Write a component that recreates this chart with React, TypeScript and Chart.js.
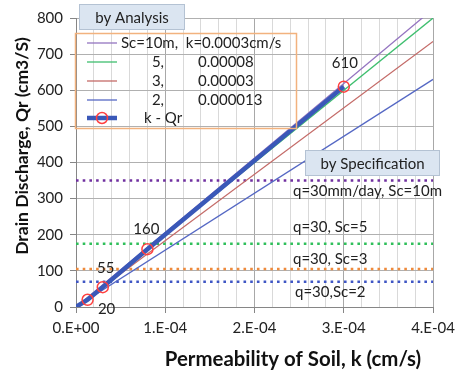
import React, { useEffect, useRef } from 'react';
import { Chart, registerables } from 'chart.js';
Chart.register(...registerables);

// ---- data ----
const lineK = [0, 0.0004];
const qSc10 = [0, 825];
const qSc5 = [0, 800];
const qSc3 = [0, 735];
const qSc2 = [0, 630];
const kPoints = [0, 0.000013, 0.00003, 0.00008, 0.0003];
const qPoints = [0, 20, 55, 160, 610];
const pointLabels = ['', '20', '55', '160', '610'];
const specK = [0, 0.0004];
const specQ = [350, 175, 105, 70];
const specLabels = ['q=30mm/day, Sc=10m', 'q=30, Sc=5', 'q=30, Sc=3', 'q=30,Sc=2'];
const specColors = ['#7030a0', '#2fbf5a', '#ee8a3c', '#3f56c4'];
const legendLeft = ['Sc=10m,  k=0.0003cm/s', '5,', '3,', '2,', 'k - Qr'];
const legendRight = ['', '0.00008', '0.00003', '0.000013', ''];
const lineColors = ['#9474c0', '#3fbf6f', '#c46b68', '#5568c4'];
const xTitle = 'Permeability of Soil, k (cm/s)';
const yTitle = 'Drain Discharge, Qr (cm3/S)';

const isMajor = (v: number) => Math.abs(v / 1e-4 - Math.round(v / 1e-4)) < 1e-6;
const fmtX = (v: number) => {
  const n = Math.round(v / 1e-4);
  return n === 0 ? '0.E+00' : `${n}.E-04`;
};

const pts = (xs: number[], ys: number[]) => xs.map((x, i) => ({ x, y: ys[i] }));

const fitFont = (ctx: CanvasRenderingContext2D, text: string, target: number) => {
  ctx.font = 'bold 20px Lato';
  const w = ctx.measureText(text).width;
  const size = Math.max(10, Math.min(24, (20 * target) / w));
  ctx.font = `bold ${size.toFixed(1)}px Lato`;
};

const overlay = {
  id: 'overlay',
  afterDraw(chart: any) {
    const ctx = chart.ctx as CanvasRenderingContext2D;
    const xs = chart.scales.x;
    const ys = chart.scales.y;
    ctx.save();
    // data labels
    ctx.fillStyle = '#222';
    ctx.font = '15px Lato';
    ctx.textAlign = 'center';
    ctx.textBaseline = 'middle';
    const offs = [[0, 0], [19, 9], [3, -19], [-1, -20], [1, -23]];
    kPoints.forEach((k, i) => {
      if (!pointLabels[i]) return;
      const px = xs.getPixelForValue(k);
      const py = ys.getPixelForValue(qPoints[i]);
      ctx.fillText(pointLabels[i], px + offs[i][0], py + offs[i][1]);
    });
    // spec labels
    ctx.textAlign = 'left';
    const specDy = [11, -17, -10, 10];
    const specDx = [0, 0, 0, 2];
    specQ.forEach((q, i) => {
      const py = ys.getPixelForValue(q);
      ctx.fillText(specLabels[i], 293 + specDx[i], py + specDy[i]);
    });
    // boxes
    const box = (x: number, y: number, w: number, h: number, t: string) => {
      ctx.fillStyle = '#dbe5f1';
      ctx.fillRect(x, y, w, h);
      ctx.strokeStyle = '#b4c2d3';
      ctx.lineWidth = 1;
      ctx.strokeRect(x + 0.5, y + 0.5, w - 1, h - 1);
      ctx.fillStyle = '#222';
      ctx.textAlign = 'center';
      ctx.font = '15px Lato';
      ctx.fillText(t, x + w / 2, y + h / 2 + 1);
    };
    box(79, 4, 106, 26, 'by Analysis');
    box(305, 150, 135, 26, 'by Specification');
    // legend
    ctx.strokeStyle = '#f2b27e';
    ctx.lineWidth = 1.5;
    ctx.strokeRect(75.5, 33.5, 221, 95);
    const rowY = [43, 62, 81, 100, 118];
    ctx.font = '15px Lato';
    rowY.forEach((y, i) => {
      ctx.beginPath();
      if (i < 4) {
        ctx.strokeStyle = lineColors[i];
        ctx.lineWidth = 1.3;
      } else {
        ctx.strokeStyle = '#3a58b8';
        ctx.lineWidth = 4.5;
      }
      ctx.moveTo(87, y);
      ctx.lineTo(117, y);
      ctx.stroke();
      if (i === 4) {
        ctx.beginPath();
        ctx.strokeStyle = '#ff4040';
        ctx.lineWidth = 1.5;
        ctx.arc(102, y, 5.5, 0, Math.PI * 2);
        ctx.stroke();
      }
      ctx.fillStyle = '#222';
      if (i === 0) {
        ctx.textAlign = 'left';
        ctx.fillText(legendLeft[i], 121, y);
      } else if (i === 4) {
        ctx.textAlign = 'left';
        ctx.fillText(legendLeft[i], 144, y);
      } else {
        ctx.textAlign = 'right';
        ctx.fillText(legendLeft[i], 164, y);
        ctx.textAlign = 'left';
        ctx.fillText(legendRight[i], 198, y);
      }
    });
    // axis titles
    ctx.fillStyle = '#111';
    ctx.textAlign = 'center';
    fitFont(ctx, xTitle, 256);
    ctx.fillText(xTitle, 293, 359);
    fitFont(ctx, yTitle, 217);
    ctx.translate(22, 146);
    ctx.rotate(-Math.PI / 2);
    ctx.fillText(yTitle, 0, 0);
    ctx.restore();
  },
};

export default function App() {
  const ref = useRef<HTMLCanvasElement>(null);
  useEffect(() => {
    document.body.style.margin = '0';
    const datasets: any[] = [
      {
        label: 'k - Qr',
        data: pts(kPoints, qPoints),
        borderColor: '#3a58b8',
        borderWidth: 4.5,
        pointRadius: kPoints.map((_, i) => (i === 0 ? 0 : 5.5)),
        pointBorderColor: '#ff4040',
        pointBackgroundColor: 'rgba(0,0,0,0)',
        pointBorderWidth: 1.5,
      },
      ...[qSc10, qSc5, qSc3, qSc2].map((q, i) => ({
        label: legendLeft[i],
        data: pts(lineK, q),
        borderColor: lineColors[i],
        borderWidth: 1.3,
        pointRadius: 0,
      })),
      ...specQ.map((q, i) => ({
        label: specLabels[i],
        data: pts(specK, [q, q]),
        borderColor: specColors[i],
        borderWidth: 2.6,
        borderDash: [2.6, 4.1],
        pointRadius: 0,
      })),
    ];
    const chart = new Chart(ref.current!, {
      type: 'line',
      data: { datasets },
      options: {
        animation: false,
        responsive: false,
        events: [],
        layout: { padding: { top: 18, right: 24, left: 0, bottom: 0 } },
        plugins: { legend: { display: false }, tooltip: { enabled: false } },
        scales: {
          x: {
            type: 'linear',
            min: 0,
            max: 0.0004,
            afterFit: (s: any) => { s.height = 66; },
            afterBuildTicks: (s: any) => {
              const t = [];
              for (let i = 0; i <= 20; i++) t.push({ value: i * 0.00002 });
              s.ticks = t;
            },
            ticks: {
              autoSkip: false,
              maxRotation: 0,
              padding: 6,
              color: '#222',
              font: { family: 'Lato', size: 15 },
              callback: (v: any) => (isMajor(v) ? fmtX(v) : ''),
            },
            grid: {
              color: (c: any) => (c.tick && isMajor(c.tick.value) ? '#a8a8a8' : '#d9d9d9'),
              tickColor: (c: any) => (c.tick && isMajor(c.tick.value) ? '#868686' : 'rgba(0,0,0,0)'),
              tickLength: 6,
            },
            border: { color: '#868686' },
          },
          y: {
            type: 'linear',
            min: 0,
            max: 800,
            afterFit: (s: any) => { s.width = 76; },
            ticks: {
              stepSize: 100,
              padding: 7,
              color: '#222',
              font: { family: 'Lato', size: 15 },
            },
            grid: { color: '#b0b0b0', tickColor: '#868686', tickLength: 6 },
            border: { color: '#868686' },
          },
        },
      },
      plugins: [overlay],
    });
    return () => chart.destroy();
  }, []);
  return (
    <div style={{ width: 461, height: 373, background: '#fff' }}>
      <canvas ref={ref} width={461} height={373} style={{ width: 461, height: 373 }} />
    </div>
  );
}
